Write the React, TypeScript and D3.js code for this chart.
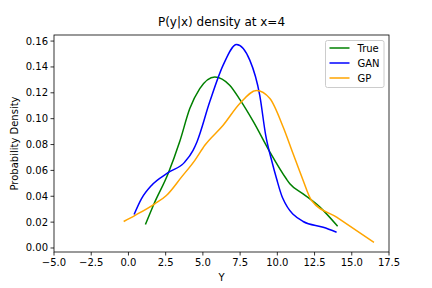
import * as d3 from "d3";
import React from "react";

// values
const trueX = [1.14, 1.72, 2.66, 3.45, 4.12, 4.79, 5.8, 6.8, 7.5, 8.4, 9.5, 10.6, 10.84, 11.73, 12.86, 14.05];
const trueY = [0.0181, 0.0342, 0.0574, 0.0825, 0.1078, 0.1233, 0.1323, 0.1259, 0.1145, 0.0975, 0.0742, 0.0535, 0.0497, 0.0419, 0.0316, 0.0168];

const ganX = [0.38, 0.87, 1.55, 2.66, 3.78, 4.34, 4.6, 5.46, 6.36, 7.26, 8.15, 8.82, 9.22, 9.61, 9.95, 10.35, 11.73, 13.08, 13.98];
const ganY = [0.0259, 0.038, 0.0484, 0.0582, 0.0664, 0.0755, 0.082, 0.113, 0.1414, 0.1574, 0.1453, 0.118, 0.0871, 0.068, 0.0535, 0.0388, 0.0205, 0.016, 0.0122];

const gpX = [-0.32, 0.42, 1.77, 2.55, 3.56, 4.46, 5.13, 6.36, 7.48, 8.6, 9.5, 10.39, 11.06, 11.69, 12.3, 13.98, 16.49];
const gpY = [0.0205, 0.0251, 0.0342, 0.0406, 0.0548, 0.0678, 0.0794, 0.0949, 0.1117, 0.1218, 0.1156, 0.0936, 0.0729, 0.0536, 0.0367, 0.0238, 0.0044];

const seriesNames = ["True", "GAN", "GP"];
const seriesColors = ["green", "blue", "orange"];

const xTicks = [-5, -2.5, 0, 2.5, 5, 7.5, 10, 12.5, 15, 17.5];
const yTicks = [0, 0.02, 0.04, 0.06, 0.08, 0.1, 0.12, 0.14, 0.16];

const W = 432;
const H = 288;
const margin = { top: 35, right: 43, bottom: 36, left: 54 };
const font = "DejaVu Sans, sans-serif";

export default function App() {
  const x = d3.scaleLinear().domain([-5, 17.5]).range([margin.left, W - margin.right]);
  const y = d3.scaleLinear().domain([-0.0031, 0.1647]).range([H - margin.bottom, margin.top]);

  const data = [
    trueX.map((v, i) => [v, trueY[i]] as [number, number]),
    ganX.map((v, i) => [v, ganY[i]] as [number, number]),
    gpX.map((v, i) => [v, gpY[i]] as [number, number]),
  ];

  const line = d3
    .line<[number, number]>()
    .x((d) => x(d[0]))
    .y((d) => y(d[1]))
    .curve(d3.curveMonotoneX);

  const left = margin.left;
  const right = W - margin.right;
  const top = margin.top;
  const bottom = H - margin.bottom;

  return (
    <svg
      width={W}
      height={H}
      style={{ position: "absolute", left: 0, top: 0, background: "white" }}
      fontFamily={font}
    >
      <rect x={0} y={0} width={W} height={H} fill="white" />
      <text x={(left + right) / 2} y={26} textAnchor="middle" fontSize={12}>
        P(y|x) density at x=4
      </text>

      {data.map((d, i) => (
        <path key={i} d={line(d) || ""} fill="none" stroke={seriesColors[i]} strokeWidth={1.5} />
      ))}

      {/* frame */}
      <rect x={left} y={top} width={right - left} height={bottom - top} fill="none" stroke="black" strokeWidth={0.8} />

      {/* x axis */}
      {xTicks.map((t) => (
        <g key={t} transform={`translate(${x(t)},${bottom})`}>
          <line y2={3.5} stroke="black" strokeWidth={0.8} />
          <text y={14} textAnchor="middle" fontSize={10}>
            {t.toFixed(1).replace("-", "\u2212")}
          </text>
        </g>
      ))}
      <text x={(left + right) / 2} y={281} textAnchor="middle" fontSize={10}>
        Y
      </text>

      {/* y axis */}
      {yTicks.map((t) => (
        <g key={t} transform={`translate(${left},${y(t)})`}>
          <line x2={-3.5} stroke="black" strokeWidth={0.8} />
          <text x={-6} dy="0.35em" textAnchor="end" fontSize={10}>
            {t.toFixed(2)}
          </text>
        </g>
      ))}
      <text
        transform={`translate(18,${(top + bottom) / 2}) rotate(-90)`}
        textAnchor="middle"
        fontSize={10}
      >
        Probability Density
      </text>

      {/* legend */}
      <g transform="translate(325.5,40.5)">
        <rect width={58.5} height={47} rx={2} fill="white" fillOpacity={0.8} stroke="#cccccc" strokeWidth={1} />
        {seriesNames.map((n, i) => (
          <g key={n} transform={`translate(0,${7.5 + i * 15})`}>
            <line x1={4} x2={24} stroke={seriesColors[i]} strokeWidth={1.5} />
            <text x={32} dy="0.35em" fontSize={10}>
              {n}
            </text>
          </g>
        ))}
      </g>
    </svg>
  );
}
